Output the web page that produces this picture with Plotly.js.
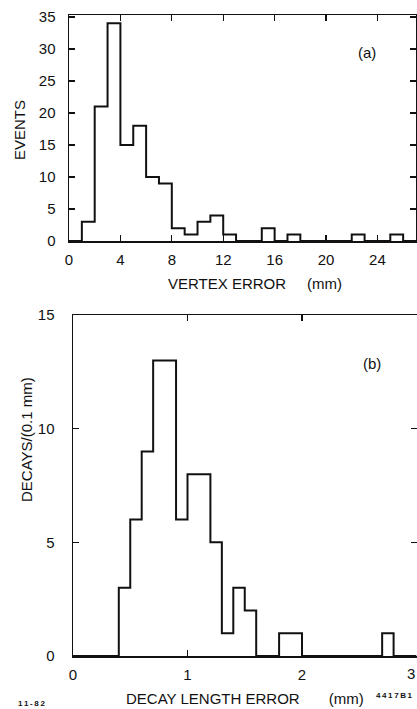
<!DOCTYPE html>
<html><head><meta charset="utf-8">
<script src="https://cdn.plot.ly/plotly-3.0.1.min.js"></script>
<style>html,body{margin:0;padding:0;background:#fff}#chart{width:417px;height:709px}</style>
</head><body><div id="chart"></div>
<script>
// (a) vertex error histogram, 1 mm bins starting at 0
const vertexBinStart = [0,1,2,3,4,5,6,7,8,9,10,11,12,13,14,15,16,17,18,19,20,21,22,23,24,25,26];
const vertexCounts   = [0,3,21,34,15,18,10,9,2,1,3,4,1,0,0,2,0,1,0,0,0,0,1,0,0,1,0];
const vertexBinWidth = 1;
const vertexTicks = [0,4,8,12,16,20,24];
const eventsTicks = [0,5,10,15,20,25,30,35];

// (b) decay length error histogram, 0.1 mm bins starting at 0
const decayBinStart = [0.0,0.1,0.2,0.3,0.4,0.5,0.6,0.7,0.8,0.9,1.0,1.1,1.2,1.3,1.4,1.5,1.6,1.7,1.8,1.9,2.0,2.1,2.2,2.3,2.4,2.5,2.6,2.7,2.8,2.9];
const decayCounts   = [0,0,0,0,3,6,9,13,13,6,8,8,5,1,3,2,0,0,1,1,0,0,0,0,0,0,0,1,0,0];
const decayBinWidth = 0.1;
const decayTicks = [0,1,2];
const decayEdgeTick = [3];
const decaysTicks = [0,5,10,15];

function stepXY(starts, counts, w){
  const x = starts.slice(); const y = counts.slice();
  x.push(+(starts[starts.length-1]+w).toFixed(3)); y.push(counts[counts.length-1]);
  return {x, y};
}
const a = stepXY(vertexBinStart, vertexCounts, vertexBinWidth);
const b = stepXY(decayBinStart, decayCounts, decayBinWidth);

const W = 417, H = 709;
const font = {family: '"Liberation Sans", Arial, sans-serif', color: '#111'};
const px = v => v / W, py = v => 1 - v / H;
const f = (s, w) => Object.assign({size: s, weight: w || 'normal'}, font);
const sp = '&nbsp;';
const ths = '&#8201;';

const axisCommon = {
  showgrid: false, zeroline: false, showline: true, linecolor: '#111', linewidth: 1.5,
  mirror: 'ticks', ticks: 'inside', ticklen: 6, tickwidth: 1.3, tickcolor: '#111',
  tickfont: f(15), fixedrange: true
};

const traces = [
  {x: a.x, y: a.y, type: 'scatter', mode: 'lines', line: {shape: 'hv', color: '#111', width: 2}, xaxis: 'x', yaxis: 'y', hoverinfo: 'skip'},
  {x: b.x, y: b.y, type: 'scatter', mode: 'lines', line: {shape: 'hv', color: '#111', width: 2}, xaxis: 'x2', yaxis: 'y2', hoverinfo: 'skip'}
];

function ann(text, x, y, size, extra, weight){
  return Object.assign({text, xref: 'paper', yref: 'paper', x: px(x), y: py(y), xanchor: 'center', yanchor: 'middle', showarrow: false, font: f(size, weight)}, extra || {});
}

const layout = {
  width: W, height: H, margin: {l: 0, r: 0, t: 0, b: 0},
  paper_bgcolor: '#fff', plot_bgcolor: '#fff', showlegend: false, font: font,
  xaxis: Object.assign({}, axisCommon, {domain: [px(69), px(416)], range: [0, 27], tickvals: vertexTicks, anchor: 'y', ticklabelstandoff: 4}),
  yaxis: Object.assign({}, axisCommon, {domain: [py(241), py(15)], range: [0, 35.3], tickvals: eventsTicks, anchor: 'x', ticklabelstandoff: 9}),
  xaxis2: Object.assign({}, axisCommon, {domain: [px(73), px(416.5)], range: [0, 3], tickvals: decayTicks, anchor: 'y2', ticklabelstandoff: 4}),
  yaxis2: Object.assign({}, axisCommon, {domain: [py(656), py(315)], range: [0, 15], tickvals: decaysTicks, anchor: 'x2', ticklabelstandoff: 14}),
  annotations: [
    ann('EVENTS', 20, 130, 15, {textangle: -90}),
    ann('VERTEX ERROR' + sp.repeat(5) + '(mm)', 255, 283, 15),
    ann('(a)', 367, 53, 15),
    ann('DECAYS/(0.1 mm)', 26, 440, 15, {textangle: -90}),
    ann('DECAY LENGTH ERROR' + sp.repeat(7) + '(mm)', 245, 698, 15),
    ann('(b)', 372, 363, 15),
    ann('1' + ths + '1' + ths + '-' + ths + '8' + ths + '2', 32, 703, 8, null, 'bold'),
    ann(['4','4','1','7','B','1'].join(ths), 394, 695, 8, null, 'bold'),
    {text: String(decayEdgeTick[0]), xref: 'x2', yref: 'paper', x: decayEdgeTick[0], y: py(673), xanchor: 'right', yanchor: 'middle', showarrow: false, font: f(15)}
  ]
};

Plotly.newPlot('chart', traces, layout, {staticPlot: true, displayModeBar: false});
</script></body></html>
